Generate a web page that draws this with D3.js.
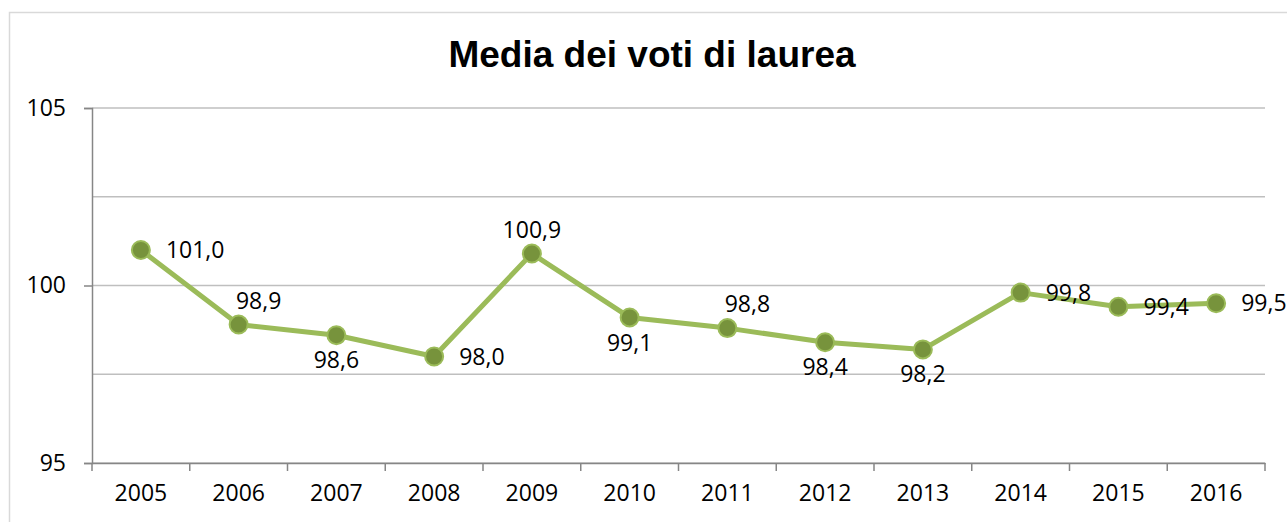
<!DOCTYPE html>
<html>
<head>
<meta charset="utf-8">
<script src="https://cdn.jsdelivr.net/npm/d3@7"></script>
<style>
  html, body { margin: 0; padding: 0; background: #fff; }
  svg { display: block; }
</style>
</head>
<body>
<div id="chart"></div>
<script>
// Data
const years = ['2005', '2006', '2007', '2008', '2009', '2010', '2011', '2012', '2013', '2014', '2015', '2016'];
const media = [101.0, 98.9, 98.6, 98.0, 100.9, 99.1, 98.8, 98.4, 98.2, 99.8, 99.4, 99.5];
const yTicks = [95, 100, 105];
const yGrid = [95, 97.5, 100, 102.5, 105];

// where each data label sits relative to its marker
const labelSide = ['right', 'aboveRight', 'below', 'right', 'above', 'below', 'aboveRight', 'below', 'below', 'right', 'right', 'right'];

const W = 1287, H = 522;
const margin = { left: 92, right: 22, top: 108, bottom: 59 };

const svg = d3.select('#chart').append('svg')
  .attr('width', W)
  .attr('height', H);

// chart frame
svg.append('rect')
  .attr('x', 9.5).attr('y', 12.5)
  .attr('width', W + 20).attr('height', H + 20)
  .attr('fill', '#fff')
  .attr('stroke', '#d9d9d9')
  .attr('stroke-width', 1.5);

// Title
svg.append('text')
  .attr('x', 652)
  .attr('y', 67)
  .attr('text-anchor', 'middle')
  .attr('font-family', '"Liberation Sans", Arial, sans-serif')
  .attr('font-weight', 'bold')
  .attr('font-size', '37px')
  .attr('fill', '#000')
  .text('Media dei voti di laurea');

const x = d3.scaleBand()
  .domain(years)
  .range([margin.left, W - margin.right]);

const y = d3.scaleLinear()
  .domain([95, 105])
  .range([H - margin.bottom, margin.top]);

const font = '"Open Sans", "Noto Sans", sans-serif';

// gridlines
svg.append('g')
  .selectAll('line')
  .data(yGrid)
  .enter()
  .append('line')
  .attr('x1', margin.left)
  .attr('x2', W - margin.right)
  .attr('y1', d => y(d))
  .attr('y2', d => y(d))
  .attr('stroke', '#bfbfbf')
  .attr('stroke-width', 1.5);

// Y axis
const yAxis = svg.append('g')
  .attr('transform', `translate(${margin.left},0)`)
  .call(d3.axisLeft(y).tickValues(yTicks).tickSize(8).tickPadding(18).tickFormat(d3.format('d')));

// X axis, ticks on the category boundaries
const xAxisG = svg.append('g')
  .attr('transform', `translate(0,${H - margin.bottom})`)
  .call(d3.axisBottom(x).tickSize(0).tickPadding(22));

xAxisG.selectAll('.bound')
  .data(d3.range(years.length + 1))
  .enter()
  .append('line')
  .attr('class', 'bound')
  .attr('x1', i => margin.left + i * x.step())
  .attr('x2', i => margin.left + i * x.step())
  .attr('y1', 0)
  .attr('y2', 8)
  .attr('stroke', '#868686')
  .attr('stroke-width', 1.5);

[yAxis, xAxisG].forEach(g => {
  g.select('.domain').attr('stroke', '#868686').attr('stroke-width', 1.5);
  g.selectAll('.tick line').attr('stroke', '#868686').attr('stroke-width', 1.5);
  g.selectAll('.tick text')
    .attr('font-family', font)
    .attr('font-size', '23px')
    .attr('fill', '#000');
});

// Line + markers
const pts = years.map((yr, i) => ({ year: yr, value: media[i], side: labelSide[i] }));
const cx = d => x(d.year) + x.bandwidth() / 2;

svg.append('path')
  .datum(pts)
  .attr('fill', 'none')
  .attr('stroke', '#9bbb59')
  .attr('stroke-width', 5)
  .attr('stroke-linejoin', 'round')
  .attr('d', d3.line().x(cx).y(d => y(d.value)));

svg.selectAll('.marker')
  .data(pts)
  .enter()
  .append('circle')
  .attr('class', 'marker')
  .attr('cx', cx)
  .attr('cy', d => y(d.value))
  .attr('r', 9)
  .attr('fill', '#77933c')
  .attr('stroke', '#9bbb59')
  .attr('stroke-width', 2);

// data labels
const fmt = v => v.toFixed(1).replace('.', ',');
svg.selectAll('.dlabel')
  .data(pts)
  .enter()
  .append('text')
  .attr('class', 'dlabel')
  .attr('x', d => {
    if (d.side === 'right') return cx(d) + 25;
    if (d.side === 'aboveRight') return cx(d) + 20;
    return cx(d);
  })
  .attr('y', d => {
    const py = y(d.value);
    if (d.side === 'above' || d.side === 'aboveRight') return py - 24;
    if (d.side === 'below') return py + 25;
    return py;
  })
  .attr('dy', '0.35em')
  .attr('text-anchor', d => d.side === 'right' ? 'start' : 'middle')
  .attr('font-family', font)
  .attr('font-size', '23px')
  .attr('fill', '#000')
  .text(d => fmt(d.value));
</script>
</body>
</html>
